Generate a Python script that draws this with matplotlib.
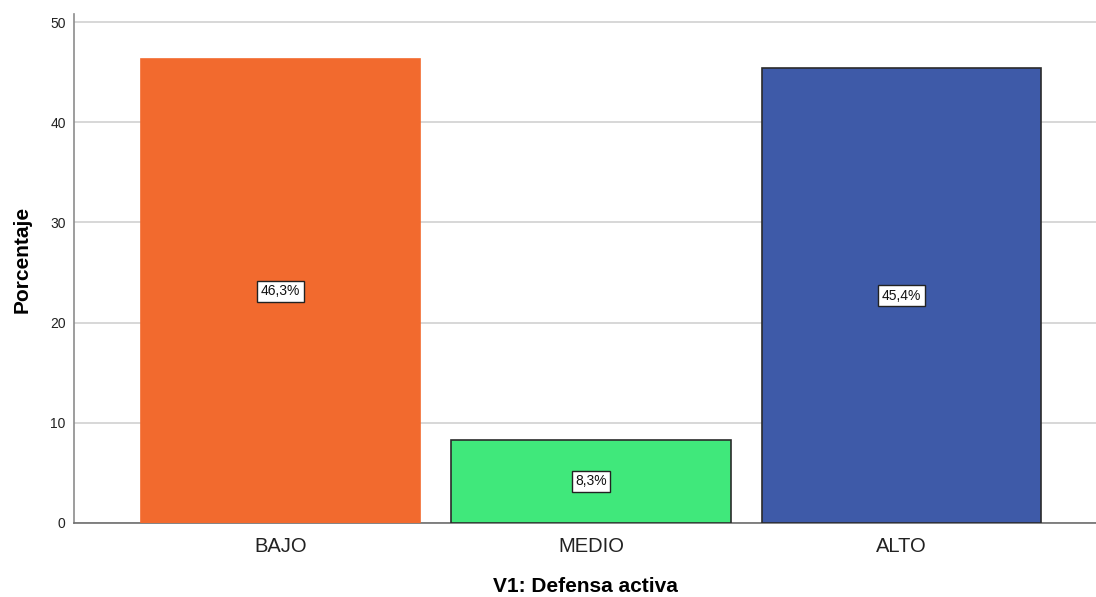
import matplotlib
matplotlib.use('Agg')
import matplotlib.pyplot as plt

# --- DATA ---
categories = ['BAJO', 'MEDIO', 'ALTO']
percentages = [46.3, 8.3, 45.4]
bar_labels = ['46,3%', '8,3%', '45,4%']
y_ticks = [0, 10, 20, 30, 40, 50]

# --- STYLE ---
bar_colors = ['#F26A2E', '#40E87B', '#3E5AA8']
edge_colors = ['#F26A2E', '#2B2B2B', '#2B2B2B']
plt.rcParams['font.family'] = ['Liberation Sans', 'DejaVu Sans']

fig = plt.figure(figsize=(10.96, 5.97), dpi=100)
ax = fig.add_axes([74 / 1096, 1 - 523 / 597, (1096 - 74) / 1096, (523 - 14) / 597])

x = range(len(categories))
bars = ax.bar(x, percentages, width=0.9, color=bar_colors,
              edgecolor=edge_colors, linewidth=1.2, zorder=3)

for bar, txt in zip(bars, bar_labels):
    ax.text(bar.get_x() + bar.get_width() / 2, bar.get_height() / 2, txt,
            ha='center', va='center', fontsize=10, color='#111111', zorder=4,
            bbox=dict(boxstyle='square,pad=0.25', facecolor='white',
                      edgecolor='#222222', linewidth=1))

ax.set_xlim(-0.665, 2.626)
ax.set_ylim(0, 50.8)
ax.set_yticks(y_ticks)
ax.set_xticks(list(x))
ax.set_xticklabels(categories, fontsize=14.5, color='#222222')
ax.tick_params(axis='y', labelsize=10, length=0, pad=6, labelcolor='#222222')
ax.tick_params(axis='x', length=0, pad=10)

ax.grid(axis='y', color='#D4D4D4', linewidth=1.3, zorder=0)
ax.set_axisbelow(True)

for side in ['top', 'right']:
    ax.spines[side].set_visible(False)
ax.spines['left'].set_color('#8C8C8C')
ax.spines['left'].set_linewidth(1.2)
ax.spines['bottom'].set_color('#6E6E6E')
ax.spines['bottom'].set_linewidth(1.2)

ax.set_xlabel('V1: Defensa activa', fontsize=15, fontweight='bold', labelpad=15)
ax.set_ylabel('Porcentaje', fontsize=15, fontweight='bold')
ax.yaxis.set_label_coords(-0.041, 0.517)

fig.savefig('out.png', dpi=100)
